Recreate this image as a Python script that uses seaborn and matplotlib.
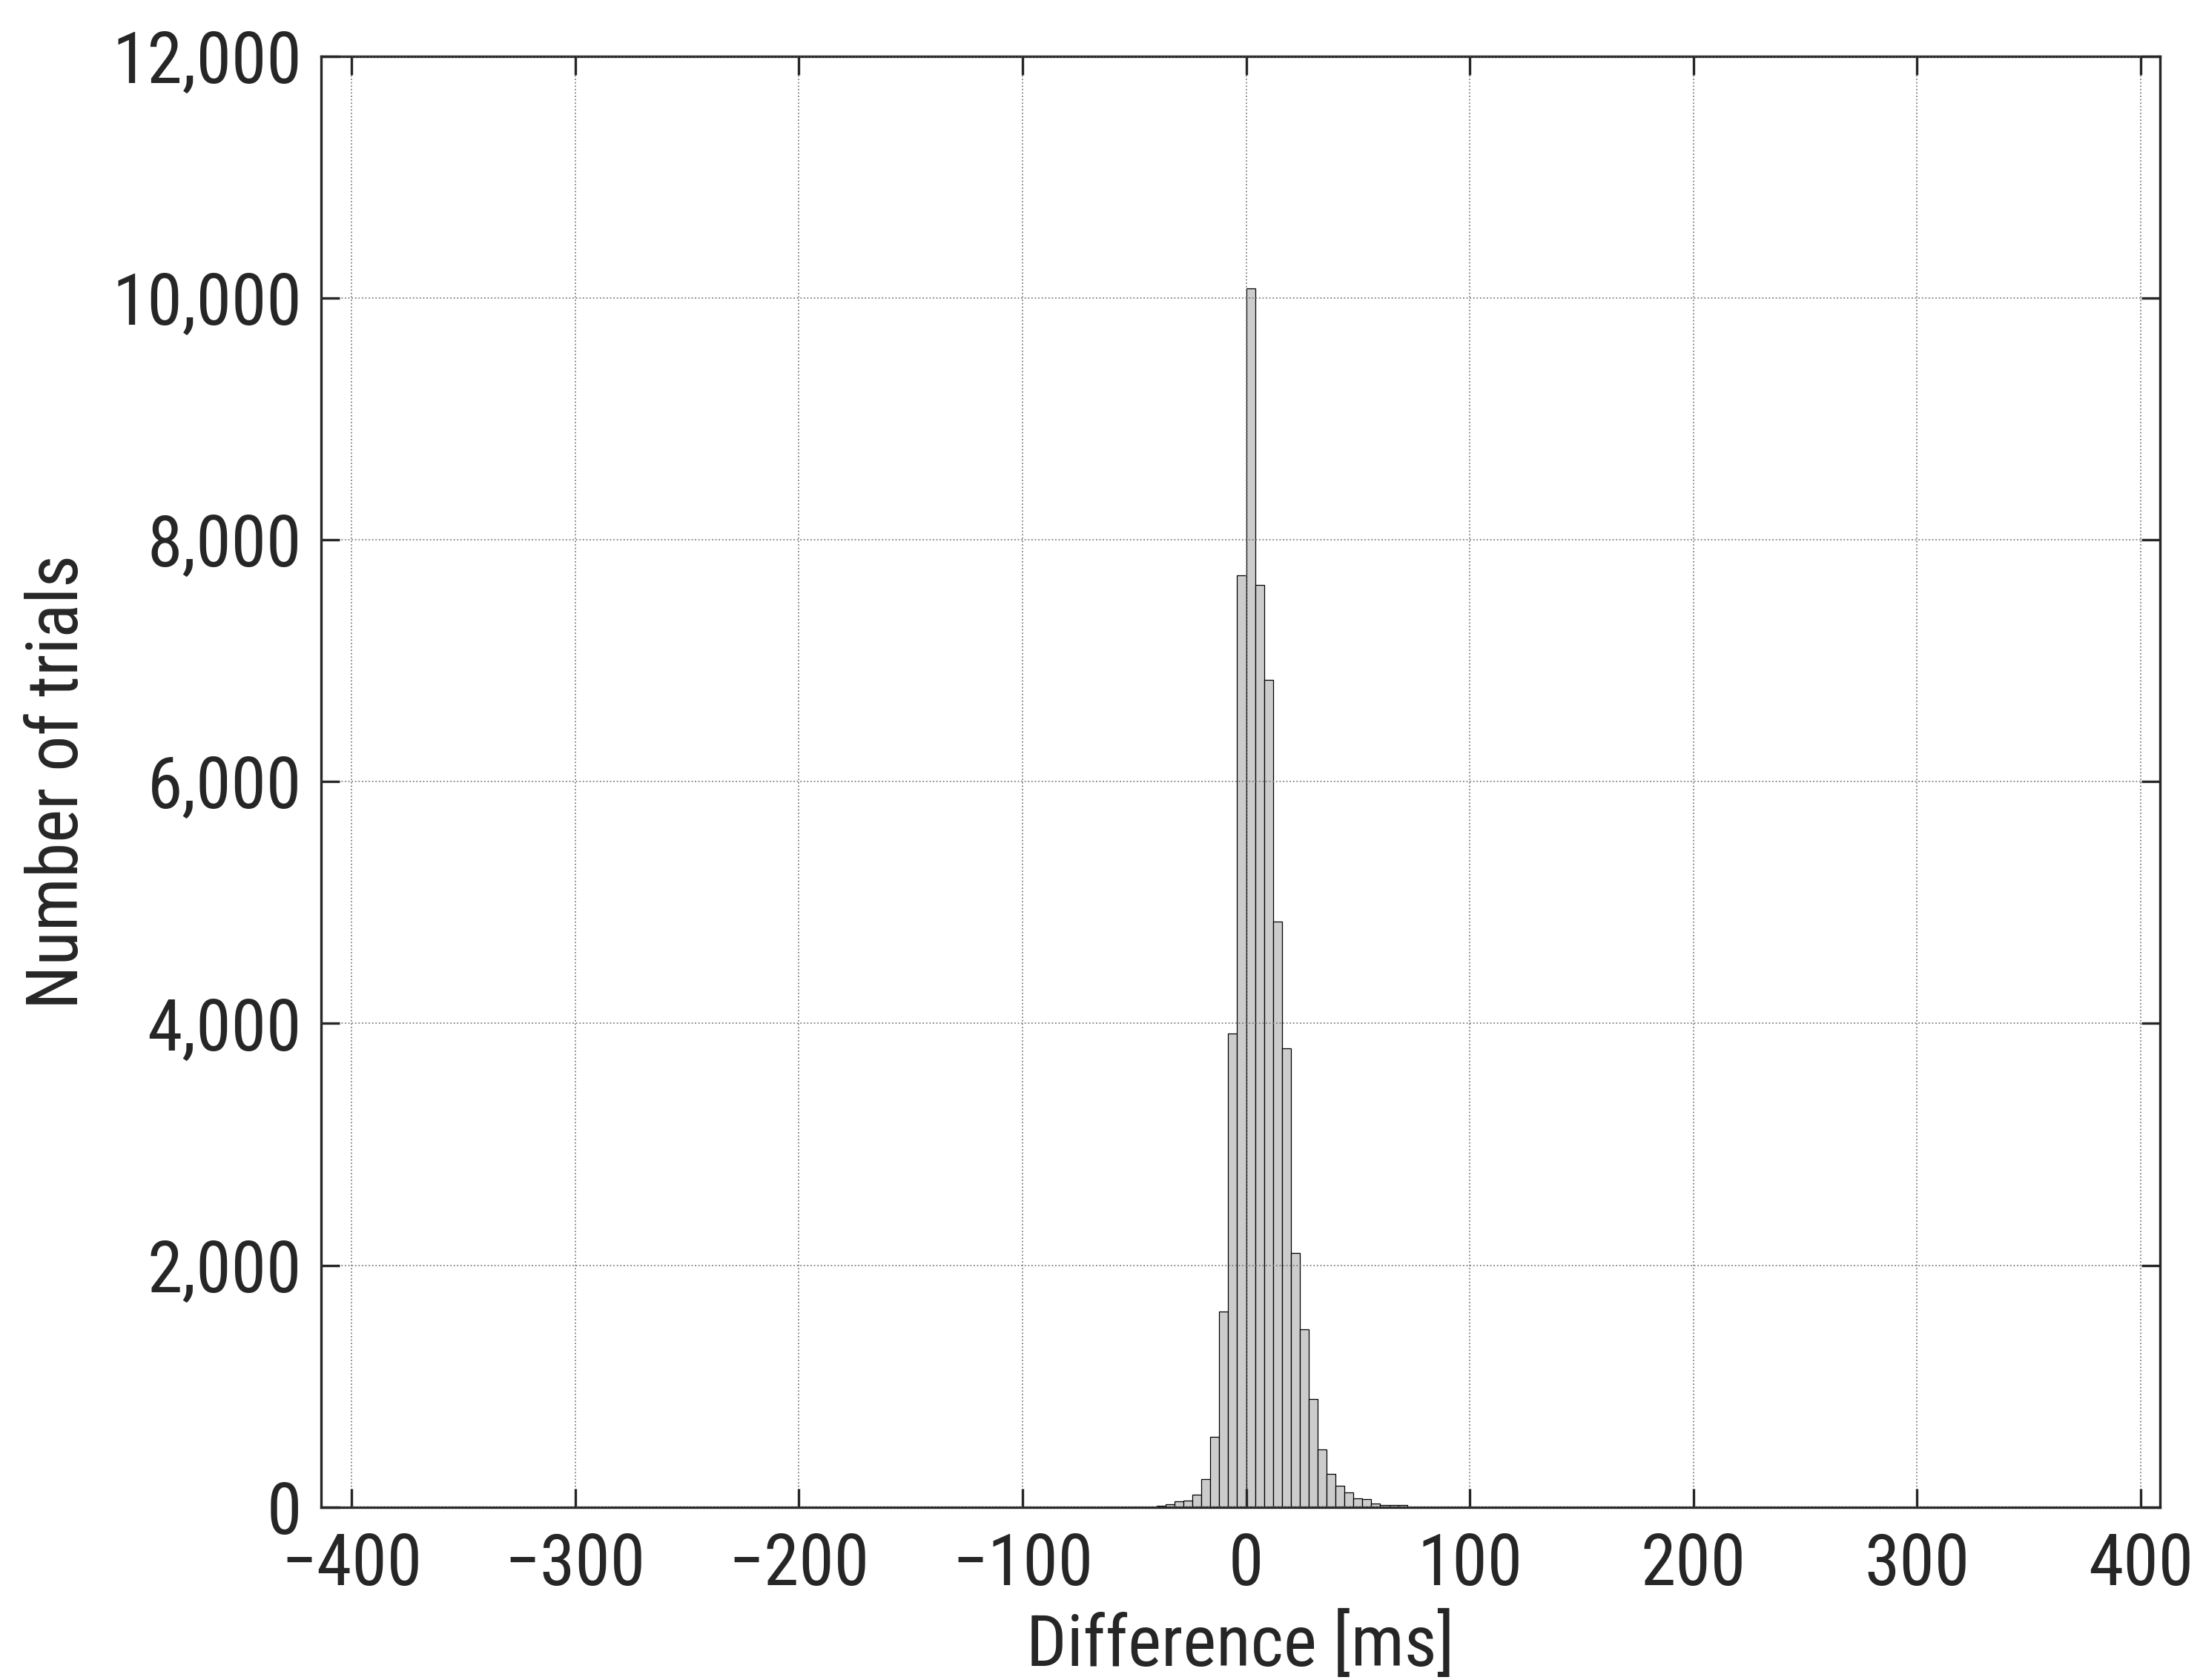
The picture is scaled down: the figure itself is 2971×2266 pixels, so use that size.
import matplotlib.pyplot as plt
import pandas as pd
import seaborn as sns
from matplotlib import font_manager, ticker

# histogram bins (4 ms wide) and counts
BIN_EDGES = list(range(-40, 76, 4))
COUNTS = [8, 20, 45, 53, 100, 230, 580, 1620, 3915, 7705,
          10080, 7625, 6840, 4840, 3795, 2100, 1467, 893, 475, 272,
          175, 122, 72, 63, 27, 14, 14, 14]
X_TICKS = [-400, -300, -200, -100, 0, 100, 200, 300, 400]
Y_TICKS = [0, 2000, 4000, 6000, 8000, 10000, 12000]

INK = '#262626'
FONT_SIZE = 69

# the original uses a narrow japanese gothic font, take the narrowest we have
installed = {f.name for f in font_manager.fontManager.ttflist}
candidates = ['Liberation Sans Narrow', 'Roboto Condensed',
              'Noto Sans CJK JP', 'DejaVu Sans']
family = [name for name in candidates if name in installed][0]

sns.set_style('ticks')
plt.rcParams['font.family'] = [family, 'DejaVu Sans']
plt.rcParams['text.color'] = INK

hist_df = pd.DataFrame({
    'diff': [left + 2 for left in BIN_EDGES[:-1]],  # bin centres
    'count': COUNTS,
})

fig = plt.figure(figsize=(29.71, 22.66), dpi=100)
ax = fig.add_axes([0.14584, 0.10296, 0.83464, 0.8635])

sns.histplot(data=hist_df, x='diff', weights='count', bins=BIN_EDGES,
             color='#cccccc', edgecolor='black', linewidth=0.9, alpha=1,
             ax=ax)

ax.set_xlim(-413.6, 408.7)
ax.set_ylim(0, 12000)
ax.set_xticks(X_TICKS)
ax.set_yticks(Y_TICKS)
ax.yaxis.set_major_formatter(ticker.StrMethodFormatter('{x:,.0f}'))

# grid drawn above the bars, like the original
ax.grid(True, color='#6e6e6e', linestyle=(0, (1.2, 1.8)), linewidth=1.1)
ax.set_axisbelow(False)

for spine in ax.spines.values():
    spine.set_visible(True)
    spine.set_linewidth(2.4)
    spine.set_color(INK)

ax.tick_params(which='both', direction='in', length=18, width=2.4,
               color=INK, labelcolor=INK, labelsize=FONT_SIZE,
               top=True, right=True)
ax.tick_params(axis='x', pad=24)
ax.tick_params(axis='y', pad=19)

ax.set_xlabel('Difference [ms]', fontsize=FONT_SIZE, color=INK)
ax.set_ylabel('Number of trials', fontsize=FONT_SIZE, color=INK)
ax.xaxis.set_label_coords(0.5, -0.072)
ax.yaxis.set_label_coords(-0.1243, 0.5)

fig.savefig('out.png', dpi=100, facecolor='white')
